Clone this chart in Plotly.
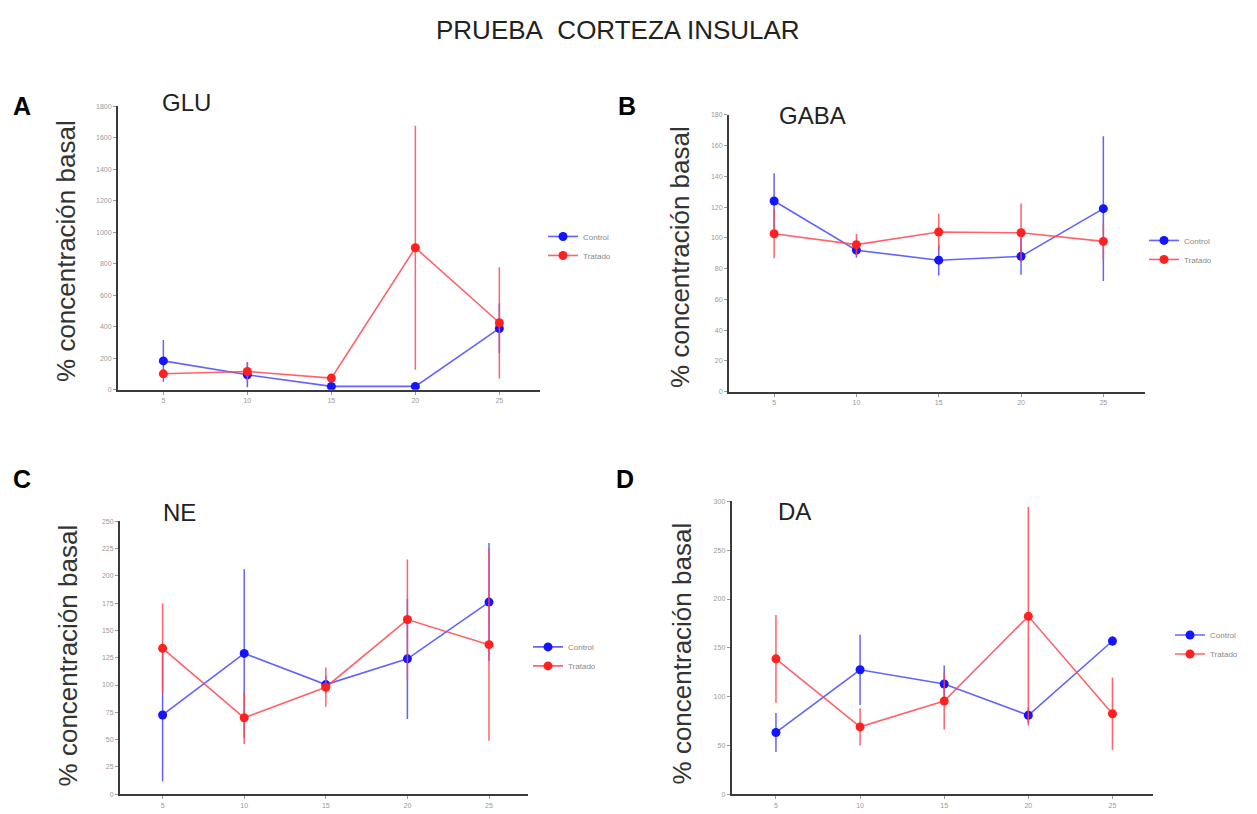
import plotly.graph_objects as go

W, H = 1257, 814
OFF = 8  # page body margin in the browser

tiempo = [5, 10, 15, 20, 25]
tick_labels = ["5", "10", "15", "20", "25"]
series_names = ["Control", "Tratado"]

glu_control = [183, 95, 21, 21, 389]
glu_control_err = [133, 80, 10, 10, 158]
glu_tratado = [101, 116, 74, 901, 425]
glu_tratado_err = [25, 60, 10, 775, 353]

gaba_control = [124, 92, 85.5, 88, 119]
gaba_control_err = [18, 5, 10, 12, 47]
gaba_tratado = [102.7, 95.6, 103.8, 103.3, 97.7]
gaba_tratado_err = [16, 7, 12, 19, 12]

ne_control = [72.6, 129, 100.4, 124, 176]
ne_control_err = [61, 77, 8, 55, 54]
ne_tratado = [133.6, 70, 98, 160, 137]
ne_tratado_err = [41, 24, 18, 55, 88]

da_control = [63.3, 127.5, 113, 80.9, 157]
da_control_err = [20, 36, 19, 8, 5]
da_tratado = [138.7, 69, 95.4, 182.3, 82.5]
da_tratado_err = [45, 19, 29, 112, 37]

panels = [
    dict(name="GLU", letter="A", c=glu_control, ce=glu_control_err, t=glu_tratado, te=glu_tratado_err,
         xd=(118, 540), yd=(389, 103), yr=(0, 1800), dt=200, xr=(2.30, 27.42),
         leg=(543, 244), let=(22, 103), nm=(187, 99), yt=(66, 249)),
    dict(name="GABA", letter="B", c=gaba_control, ce=gaba_control_err, t=gaba_tratado, te=gaba_tratado_err,
         xd=(729, 1145), yd=(391, 111.7), yr=(0, 180), dt=20, xr=(2.26, 27.53),
         leg=(1144, 248), let=(627, 103), nm=(812, 112), yt=(680, 255)),
    dict(name="NE", letter="C", c=ne_control, ce=ne_control_err, t=ne_tratado, te=ne_tratado_err,
         xd=(120, 528), yd=(797, 521.7), yr=(0, 250), dt=25, xr=(2.39, 27.39),
         leg=(528, 658), let=(22, 479), nm=(179, 513), yt=(68, 657)),
    dict(name="DA", letter="D", c=da_control, ce=da_control_err, t=da_tratado, te=da_tratado_err,
         xd=(731.7, 1153), yd=(797, 501.7), yr=(0, 300), dt=50, xr=(2.37, 27.41),
         leg=(1170, 646), let=(625, 479), nm=(794, 512), yt=(682, 655)),
]

blue_line = "rgba(70,70,255,0.85)"
blue_mark = "#1414ff"
red_line = "rgba(255,70,80,0.85)"
red_mark = "#ff2020"

fig = go.Figure()
annotations = []
layout = {}


def px(x):
    return (x - OFF) / W


def py(y):
    return 1 - (y - OFF) / H


def ann(text, x, y, size, color, angle=0):
    return dict(text=text, x=px(x), y=py(y), xref="paper", yref="paper", showarrow=False,
                xanchor="center", yanchor="middle", textangle=angle,
                font=dict(size=size, color=color, family="Liberation Sans, Arial"))


for i, p in enumerate(panels):
    k = "" if i == 0 else str(i + 1)
    leg = "legend" if i == 0 else "legend" + str(i + 1)
    for name, vals, errs, lc, mc in [
        (series_names[0], p["c"], p["ce"], blue_line, blue_mark),
        (series_names[1], p["t"], p["te"], red_line, red_mark),
    ]:
        fig.add_trace(go.Scatter(
            x=tiempo, y=vals, name=name, mode="lines+markers",
            xaxis="x" + k, yaxis="y" + k, legend=leg,
            line=dict(color=lc, width=1.6),
            marker=dict(color=mc, size=9),
            error_y=dict(type="data", array=errs, visible=True, color=lc, thickness=1.5, width=0),
        ))
    layout["xaxis" + k] = dict(
        domain=[px(p["xd"][0]), px(p["xd"][1])], range=list(p["xr"]), anchor="y" + k,
        tickvals=tiempo, ticktext=tick_labels, showline=True, linecolor="#3a3a3a", linewidth=2,
        ticks="outside", ticklen=3, tickcolor="#999", tickfont=dict(size=7, color="#999"),
        showgrid=False, zeroline=False, fixedrange=True,
    )
    layout["yaxis" + k] = dict(
        domain=[py(p["yd"][0]), py(p["yd"][1])], range=list(p["yr"]), anchor="x" + k,
        dtick=p["dt"], showline=True, linecolor="#3a3a3a", linewidth=2,
        ticks="outside", ticklen=3, tickcolor="#999", tickfont=dict(size=7, color="#999"),
        showgrid=False, zeroline=False, fixedrange=True,
    )
    layout[leg] = dict(
        x=px(p["leg"][0]), y=py(p["leg"][1]), xanchor="left", yanchor="middle",
        font=dict(size=8, color="#888"), bgcolor="rgba(0,0,0,0)", itemwidth=30,
        tracegroupgap=0,
    )
    annotations.append(ann("<b>" + p["letter"] + "</b>", p["let"][0], p["let"][1], 25, "black"))
    annotations.append(ann(p["name"], p["nm"][0], p["nm"][1], 24, "#222"))
    annotations.append(ann("% concentración basal", p["yt"][0], p["yt"][1], 26, "#333", -90))

annotations.append(ann("PRUEBA\u00a0 CORTEZA INSULAR", 618, 26, 26, "#222"))

fig.update_layout(
    width=W, height=H, margin=dict(l=0, r=0, t=0, b=0),
    paper_bgcolor="white", plot_bgcolor="white",
    font=dict(family="Liberation Sans, Arial"),
    annotations=annotations, showlegend=True,
    **layout,
)

fig.write_html("out.html")
